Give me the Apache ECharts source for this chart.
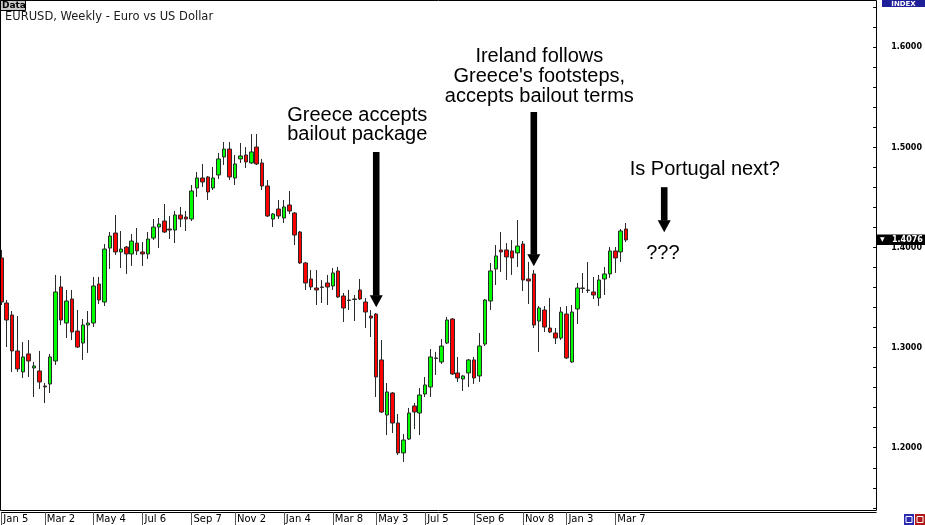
<!DOCTYPE html>
<html><head><meta charset="utf-8">
<script src="https://cdn.jsdelivr.net/npm/echarts@6/dist/echarts.min.js"></script>
<style>html,body{margin:0;padding:0;background:#fff}#c{width:925px;height:525px}</style>
</head><body><div id="c"></div>
<script>
// ---- data (weekly EUR/USD candles, Jan 2009 - Mar 2011) ----
const startWeek = [2009, 0, 5];
const totalWeeks = 162; // axis slots incl. empty future weeks
const tickWeeks = [0, 8, 17, 26, 35, 43, 52, 61, 69, 78, 87, 96, 104, 113];
const tickLabels = ['Jan 5','Mar 2','May 4','Jul 6','Sep 7','Nov 2','Jan 4','Mar 8','May 3','Jul 5','Sep 6','Nov 8','Jan 3','Mar 7'];

const openP = [1.3896,1.3446,1.3326,1.2967,1.2757,1.2937,1.2797,1.2767,1.2617,1.2637,
1.2867,1.3606,1.3246,1.3486,1.3166,1.3046,1.3226,1.3246,1.3636,1.3456,
1.3995,1.4145,1.3956,1.4005,1.3936,1.4045,1.3956,1.3936,1.4095,1.4205,
1.4265,1.4185,1.4175,1.4325,1.4305,1.4285,1.4595,1.4695,1.4705,1.4595,
1.4725,1.4905,1.4984,1.4695,1.4885,1.4925,1.4845,1.5004,1.4845,1.4615,
1.4285,1.4385,1.4295,1.4425,1.4345,1.4155,1.3846,1.3686,1.3596,1.3606,
1.3646,1.3616,1.3766,1.3516,1.3476,1.3486,1.3576,1.3456,1.3316,1.3336,
1.2877,1.2327,1.2547,1.2247,1.1948,1.2087,1.2417,1.2347,1.2537,1.2607,
1.2897,1.2857,1.3046,1.3286,1.2747,1.2687,1.2747,1.2877,1.2717,1.3036,
1.3466,1.3786,1.3976,1.3976,1.3966,1.3946,1.4035,1.3686,1.3736,1.3266,
1.3376,1.3196,1.3146,1.3096,1.3336,1.2857,1.3386,1.3596,1.3576,1.3556,
1.3496,1.3686,1.3736,1.3966,1.3956,1.4185];
const closeP = [1.3456,1.3276,1.2967,1.2787,1.2907,1.2867,1.2817,1.2657,1.2607,1.2907,
1.3556,1.3276,1.3466,1.3156,1.3006,1.3226,1.3246,1.3616,1.3476,1.3985,
1.4115,1.3956,1.3985,1.3936,1.4065,1.3966,1.3936,1.4085,1.4205,1.4235,
1.4155,1.4175,1.4325,1.4285,1.4285,1.4565,1.4695,1.4655,1.4555,1.4695,
1.4885,1.4984,1.4705,1.4835,1.4915,1.4855,1.4955,1.4835,1.4615,1.4315,
1.4335,1.4315,1.4405,1.4365,1.4125,1.3846,1.3646,1.3606,1.3576,1.3601,
1.3606,1.3746,1.3506,1.3396,1.3471,1.3481,1.3486,1.3356,1.3296,1.2707,
1.2357,1.2557,1.2247,1.1948,1.2077,1.2347,1.2357,1.2527,1.2627,1.2907,
1.2892,1.3016,1.3276,1.2737,1.2697,1.2717,1.2877,1.2697,1.3016,1.3476,
1.3766,1.3916,1.3956,1.3906,1.3896,1.4015,1.3676,1.3666,1.3226,1.3396,
1.3206,1.3156,1.3096,1.3356,1.2897,1.3356,1.3596,1.3591,1.3571,1.3526,
1.3676,1.3736,1.3966,1.3896,1.4165,1.4076];
const lowP = [1.3426,1.3006,1.2757,1.2757,1.2697,1.2707,1.2507,1.2587,1.2447,1.2547,
1.2827,1.3226,1.3096,1.3076,1.2996,1.2877,1.2947,1.3206,1.3436,1.3416,
1.3786,1.3926,1.3796,1.3736,1.3816,1.3926,1.3816,1.3886,1.4075,1.3995,
1.4145,1.4085,1.4045,1.4205,1.4165,1.4265,1.4505,1.4605,1.4475,1.4575,
1.4685,1.4825,1.4675,1.4625,1.4845,1.4795,1.4835,1.4825,1.4575,1.4305,
1.4205,1.4285,1.4245,1.4335,1.4025,1.3836,1.3576,1.3576,1.3426,1.3446,
1.3426,1.3576,1.3496,1.3256,1.3376,1.3266,1.3476,1.3196,1.3106,1.2507,
1.2347,1.2127,1.2147,1.1928,1.1858,1.2077,1.2187,1.2127,1.2507,1.2507,
1.2727,1.2837,1.3036,1.2727,1.2657,1.2567,1.2607,1.2637,1.2657,1.3016,
1.3376,1.3626,1.3756,1.3676,1.3726,1.3806,1.3566,1.3436,1.3196,1.2957,
1.3156,1.3146,1.3036,1.3076,1.2887,1.2847,1.3236,1.3546,1.3546,1.3486,
1.3416,1.3526,1.3696,1.3746,1.3856,1.4055];
const highP = [1.3976,1.3476,1.3366,1.3316,1.3056,1.3076,1.2857,1.2967,1.2647,1.2937,
1.3726,1.3716,1.3576,1.3576,1.3376,1.3286,1.3366,1.3706,1.3706,1.4035,
1.4155,1.4325,1.4165,1.4015,1.4135,1.4195,1.4055,1.4155,1.4285,1.4295,
1.4435,1.4315,1.4365,1.4405,1.4365,1.4625,1.4755,1.4835,1.4715,1.4805,
1.4945,1.5054,1.5054,1.4925,1.5044,1.5004,1.5134,1.5134,1.4885,1.4675,
1.4345,1.4475,1.4475,1.4565,1.4355,1.4165,1.3856,1.3776,1.3776,1.3676,
1.3726,1.3796,1.3806,1.3546,1.3576,1.3526,1.3686,1.3496,1.3376,1.3346,
1.3076,1.2647,1.2557,1.2337,1.2137,1.2397,1.2447,1.2597,1.2707,1.2986,
1.2957,1.3086,1.3306,1.3296,1.2907,1.2727,1.2887,1.2907,1.3146,1.3486,
1.3846,1.4025,1.4155,1.4045,1.4075,1.4275,1.4065,1.3856,1.3776,1.3416,
1.3416,1.3496,1.3196,1.3406,1.3416,1.3426,1.3646,1.3746,1.3856,1.3706,
1.3726,1.3806,1.4005,1.4005,1.4185,1.4245];

const yMin = 1.14, yMax = 1.64, yStep = 0.02;

// annotation anchors: week index, arrow top price, arrow tip price
const arrows = [
  {week: 69, top: 1.4954, tip: 1.3403},
  {week: 98, top: 1.5353, tip: 1.3813},
  {week: 122, top: 1.4603, tip: 1.4153}
];
const noteTexts = ['Greece accepts\nbailout package', 'Ireland follows\nGreece\'s footsteps,\naccepts bailout terms', 'Is Portugal next?', '???'];

// ---- build ----
const weeks = [];
for (let i = 0; i < totalWeeks; i++) {
  const d = new Date(Date.UTC(startWeek[0], startWeek[1], startWeek[2] + 7 * i));
  weeks.push(d.toISOString().slice(0, 10));
}
const labelMap = {};
tickWeeks.forEach((w, i) => { labelMap[w] = tickLabels[i]; });
const candles = openP.map((o, i) => [o, closeP[i], lowP[i], highP[i]]);
const lastClose = closeP[closeP.length - 1];

const chart = echarts.init(document.getElementById('c'), null, {renderer: 'canvas'});
const option = {
  animation: false,
  backgroundColor: '#ffffff',
  grid: {left: 1.3, right: 48, top: 7.3, bottom: 17.2},
  xAxis: {
    type: 'category', data: weeks, boundaryGap: false, offset: 4.5,
    axisLine: {show: true, lineStyle: {color: '#000', width: 1}},
    axisTick: {show: true, interval: (i) => labelMap[i] !== undefined, length: 13, lineStyle: {color: '#555'}},
    axisLabel: {
      interval: (i) => labelMap[i] !== undefined,
      formatter: (v, i) => labelMap[i] || '',
      align: 'left', margin: 2, padding: [0, 0, 0, 2],
      color: '#000', fontFamily: 'DejaVu Sans', fontSize: 10
    },
    splitLine: {show: false}
  },
  yAxis: {
    type: 'value', position: 'right', min: yMin, max: yMax, interval: yStep,
    axisLine: {show: false},
    axisTick: {show: true, inside: true, length: 3, lineStyle: {color: '#000'}},
    axisLabel: {
      formatter: (v) => Math.abs(v * 10 - Math.round(v * 10)) < 1e-6 ? v.toFixed(4) : '',
      margin: 15, color: '#000', fontFamily: 'DejaVu Sans', fontWeight: 'bold', fontSize: 8
    },
    splitLine: {show: false}
  },
  series: [{
    type: 'candlestick', data: candles, barWidth: 4,
    itemStyle: {color: '#00ff00', color0: '#ff0000', borderColor: '#2a2a2a', borderColor0: '#2a2a2a', borderWidth: 1}
  }]
};
chart.setOption(option);

const font20 = '20px "Liberation Sans", Arial, sans-serif';
const g = [
  {type: 'rect', silent: true, z: 50, shape: {x: 0.5, y: 0.5, width: 876, height: 510}, style: {fill: 'transparent', stroke: '#000', lineWidth: 1}},
  {type: 'rect', silent: true, z: 51, shape: {x: 0.5, y: 0.5, width: 25, height: 10}, style: {fill: '#c8c8c8', stroke: '#000', lineWidth: 1}},
  {type: 'text', silent: true, z: 52, x: 2, y: 5.5, style: {text: 'Data', font: 'bold 9px "DejaVu Sans"', fill: '#000', verticalAlign: 'middle', textVerticalAlign: 'middle'}},
  {type: 'text', silent: true, z: 52, x: 5, y: 16.7, style: {text: 'EURUSD, Weekly - Euro vs US Dollar', font: '11.5px "DejaVu Sans"', fill: '#1a1a1a', verticalAlign: 'middle', textVerticalAlign: 'middle'}},
  {type: 'rect', silent: true, z: 51, shape: {x: 882, y: 0, width: 43, height: 7}, style: {fill: '#1f1f9a'}},
  {type: 'text', silent: true, z: 52, x: 903.5, y: 3.8, style: {text: 'INDEX', font: 'bold 7px "DejaVu Sans"', fill: '#fff', align: 'center', textAlign: 'center', verticalAlign: 'middle', textVerticalAlign: 'middle'}},
  {type: 'rect', silent: true, z: 51, shape: {x: 904, y: 514, width: 10, height: 11}, style: {fill: '#2a2ab0'}},
  {type: 'rect', silent: true, z: 51, shape: {x: 915, y: 514, width: 10, height: 11}, style: {fill: '#b01818'}},
  {type: 'rect', silent: true, z: 52, shape: {x: 906, y: 516.5, width: 6, height: 6}, style: {fill: 'transparent', stroke: '#fff', lineWidth: 1}},
  {type: 'rect', silent: true, z: 52, shape: {x: 917, y: 516.5, width: 6, height: 6}, style: {fill: 'transparent', stroke: '#fff', lineWidth: 1}}
];

// current price marker on the right axis, anchored at the last close
const lastPx = chart.convertToPixel({gridIndex: 0}, [0, lastClose]);
g.push({type: 'rect', silent: true, z: 55, shape: {x: 877, y: lastPx[1] - 5.5, width: 48, height: 10.5}, style: {fill: '#000'}});
g.push({type: 'text', silent: true, z: 56, x: 880, y: lastPx[1], style: {text: '\u25BC', font: 'bold 6px "DejaVu Sans"', fill: '#fff', verticalAlign: 'middle', textVerticalAlign: 'middle'}});
g.push({type: 'text', silent: true, z: 56, x: 892, y: lastPx[1], style: {text: lastClose.toFixed(4), font: 'bold 8px "DejaVu Sans"', fill: '#fff', verticalAlign: 'middle', textVerticalAlign: 'middle'}});

const px = arrows.map(a => ({
  top: chart.convertToPixel({gridIndex: 0}, [a.week, a.top]),
  tip: chart.convertToPixel({gridIndex: 0}, [a.week, a.tip])
}));
px.forEach(p => {
  const x = p.top[0], yTop = p.top[1], yTip = p.tip[1], headH = 12, half = 6.5;
  g.push({type: 'rect', silent: true, z: 60, shape: {x: x - 3.3, y: yTop, width: 6.6, height: yTip - headH - yTop + 0.5}, style: {fill: '#000'}});
  g.push({type: 'polygon', silent: true, z: 60, shape: {points: [[x - half, yTip - headH], [x + half, yTip - headH], [x, yTip]]}, style: {fill: '#000'}});
});
// annotation texts placed relative to their arrows
g.push({type: 'text', silent: true, z: 60, x: px[0].top[0] - 89, y: px[0].top[1] - 46.5,
  style: {text: noteTexts[0], font: font20, lineHeight: 19, fill: '#000', align: 'left', textAlign: 'left', verticalAlign: 'top', textVerticalAlign: 'top'}});
g.push({type: 'text', silent: true, z: 60, x: px[1].top[0] + 5.5, y: px[1].top[1] - 65.2,
  style: {text: noteTexts[1], font: font20, lineHeight: 19.7, fill: '#000', align: 'center', textAlign: 'center', verticalAlign: 'top', textVerticalAlign: 'top'}});
g.push({type: 'text', silent: true, z: 60, x: px[2].top[0] - 34.5, y: px[2].top[1] - 18,
  style: {text: noteTexts[2], font: font20, fill: '#000', align: 'left', textAlign: 'left', verticalAlign: 'middle', textVerticalAlign: 'middle'}});
g.push({type: 'text', silent: true, z: 60, x: px[2].top[0] - 18, y: px[2].tip[1] + 21.7,
  style: {text: noteTexts[3], font: font20, fill: '#000', align: 'left', textAlign: 'left', verticalAlign: 'middle', textVerticalAlign: 'middle'}});

chart.setOption({graphic: {elements: g}});
</script>
</body></html>
